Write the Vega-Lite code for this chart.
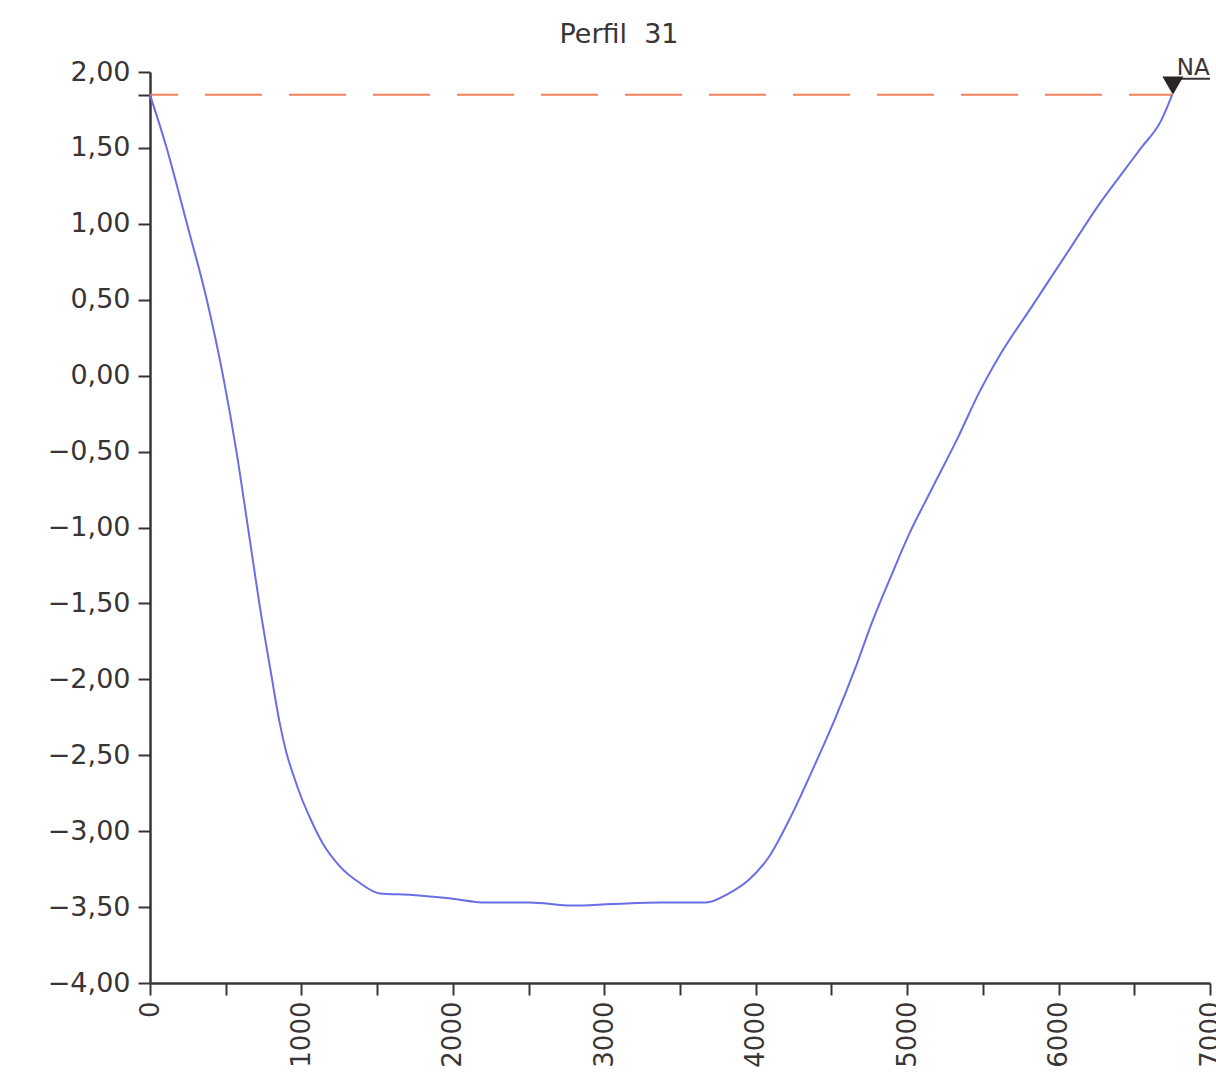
{
  "$schema": "https://vega.github.io/schema/vega-lite/v6.json",
  "autosize": "none",
  "width": 1060,
  "height": 911,
  "padding": {"left": 150, "top": 72, "right": 6, "bottom": 92},
  "background": "white",
  "title": {"text": "Perfil\u00a0\u00a031", "font": "DejaVu Sans", "fontSize": 27, "fontWeight": "normal", "color": "#3a3535", "anchor": "middle", "dx": -61, "offset": 8},
  "config": {"view": {"stroke": null}},
  "datasets": {
    "perfil": [
      {"dist": 0, "cota": 1.85},
      {"dist": 110, "cota": 1.5},
      {"dist": 244, "cota": 1.0},
      {"dist": 375, "cota": 0.5},
      {"dist": 482, "cota": 0.0},
      {"dist": 571, "cota": -0.5},
      {"dist": 647, "cota": -1.0},
      {"dist": 722, "cota": -1.5},
      {"dist": 806, "cota": -2.0},
      {"dist": 855, "cota": -2.28},
      {"dist": 900, "cota": -2.48},
      {"dist": 950, "cota": -2.64},
      {"dist": 1000, "cota": -2.78},
      {"dist": 1060, "cota": -2.92},
      {"dist": 1140, "cota": -3.08},
      {"dist": 1252, "cota": -3.23},
      {"dist": 1384, "cota": -3.34},
      {"dist": 1516, "cota": -3.41},
      {"dist": 1734, "cota": -3.42},
      {"dist": 1958, "cota": -3.44},
      {"dist": 2221, "cota": -3.47},
      {"dist": 2505, "cota": -3.47},
      {"dist": 2788, "cota": -3.49},
      {"dist": 3052, "cota": -3.48},
      {"dist": 3381, "cota": -3.47},
      {"dist": 3671, "cota": -3.47},
      {"dist": 3823, "cota": -3.41},
      {"dist": 3955, "cota": -3.32},
      {"dist": 4087, "cota": -3.17},
      {"dist": 4219, "cota": -2.93},
      {"dist": 4396, "cota": -2.55},
      {"dist": 4528, "cota": -2.25},
      {"dist": 4660, "cota": -1.92},
      {"dist": 4766, "cota": -1.63},
      {"dist": 4898, "cota": -1.31},
      {"dist": 5010, "cota": -1.05},
      {"dist": 5161, "cota": -0.75},
      {"dist": 5339, "cota": -0.4},
      {"dist": 5471, "cota": -0.12},
      {"dist": 5603, "cota": 0.12},
      {"dist": 5820, "cota": 0.45},
      {"dist": 6084, "cota": 0.85},
      {"dist": 6262, "cota": 1.12},
      {"dist": 6440, "cota": 1.36},
      {"dist": 6545, "cota": 1.5},
      {"dist": 6677, "cota": 1.68},
      {"dist": 6750, "cota": 1.85}
    ],
    "na": [
      {"dist": 0, "cota": 1.85},
      {"dist": 6750, "cota": 1.85}
    ],
    "marker": [
      {"dist": 6755, "cota": 1.91, "fim": 7000, "sub": 1.955, "label": "NA", "tdist": 6780, "tcota": 1.98}
    ]
  },
  "layer": [
    {
      "data": {"name": "na"},
      "mark": {"type": "line", "color": "#f2805c", "strokeWidth": 2, "strokeDash": [57, 27], "strokeDashOffset": 29},
      "encoding": {
        "x": {"field": "dist", "type": "quantitative", "scale": {"domain": [0, 7000], "nice": false, "zero": false},
          "axis": {"values": [0,500,1000,1500,2000,2500,3000,3500,4000,4500,5000,5500,6000,6500,7000],
            "labelExpr": "datum.value % 1000 == 0 ? datum.value : ''",
            "labelAngle": -90, "labelFont": "DejaVu Sans", "labelFontSize": 26, "labelColor": "#3a3535",
            "labelPadding": 6, "labelOverlap": false, "labelFlush": false, "title": null, "grid": false,
            "domainColor": "#3a3535", "domainWidth": 2.5, "tickColor": "#3a3535", "tickWidth": 2, "tickSize": 12}},
        "y": {"field": "cota", "type": "quantitative", "scale": {"domain": [-4, 2], "nice": false, "zero": false},
          "axis": {"values": [-4,-3.5,-3,-2.5,-2,-1.5,-1,-0.5,0,0.5,1,1.5,1.85,2],
            "labelExpr": "datum.value == 1.85 ? '' : replace(format(datum.value, '.2f'), '.', ',')",
            "labelFont": "DejaVu Sans", "labelFontSize": 27, "labelColor": "#3a3535",
            "labelPadding": 8, "labelOverlap": false, "labelFlush": false, "title": null, "grid": false,
            "domainColor": "#3a3535", "domainWidth": 2.5, "tickColor": "#3a3535", "tickWidth": 2, "tickSize": 12}}
      }
    },
    {
      "data": {"name": "perfil"},
      "mark": {"type": "line", "color": "#6a6ee6", "strokeWidth": 2, "interpolate": "monotone"},
      "encoding": {
        "x": {"field": "dist", "type": "quantitative"},
        "y": {"field": "cota", "type": "quantitative"}
      }
    },
    {
      "data": {"name": "marker"},
      "mark": {"type": "rule", "color": "#3a3535", "strokeWidth": 2},
      "encoding": {
        "x": {"field": "dist", "type": "quantitative"},
        "x2": {"field": "fim"},
        "y": {"field": "sub", "type": "quantitative"}
      }
    },
    {
      "data": {"name": "marker"},
      "mark": {"type": "point", "shape": "triangle-down", "filled": true, "color": "#2a2424", "size": 440, "opacity": 1},
      "encoding": {
        "x": {"field": "dist", "type": "quantitative"},
        "y": {"field": "cota", "type": "quantitative"}
      }
    },
    {
      "data": {"name": "marker"},
      "mark": {"type": "text", "font": "DejaVu Sans", "fontSize": 23, "color": "#3a3535", "align": "left", "baseline": "alphabetic"},
      "encoding": {
        "x": {"field": "tdist", "type": "quantitative"},
        "y": {"field": "tcota", "type": "quantitative"},
        "text": {"field": "label"}
      }
    }
  ]
}
